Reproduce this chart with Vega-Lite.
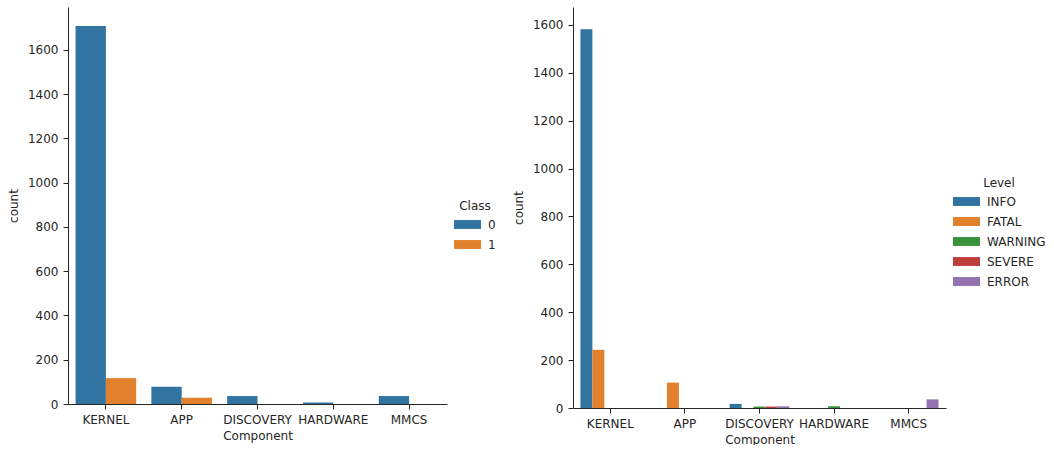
{
  "$schema": "https://vega.github.io/schema/vega-lite/v6.json",
  "padding": {"left": 7, "top": 7, "right": 0, "bottom": 0},
  "background": "white",
  "spacing": 126,
  "bounds": "flush",
  "config": {
    "view": {"stroke": null},
    "font": "DejaVu Sans",
    "axis": {
      "labelFont": "DejaVu Sans", "titleFont": "DejaVu Sans",
      "labelFontSize": 12, "titleFontSize": 12, "titleFontWeight": "normal",
      "labelColor": "#262626", "titleColor": "#262626",
      "domainColor": "#262626", "tickColor": "#262626",
      "tickSize": 5, "labelPadding": 5, "grid": false
    },
    "legend": {
      "labelFont": "DejaVu Sans", "titleFont": "DejaVu Sans",
      "labelFontSize": 12, "titleFontSize": 12, "titleFontWeight": "normal",
      "labelColor": "#262626", "titleColor": "#262626",
      "symbolType": "M-1,-0.33H1V0.33H-1Z", "symbolSize": 729,
      "symbolStrokeWidth": 0, "titleAnchor": "middle", "padding": 0,
      "rowPadding": -3.5, "titlePadding": -2, "labelOffset": 7
    }
  },
  "datasets": {
    "cls": [
      {"Component": "KERNEL", "Class": "0", "count": 1708},
      {"Component": "KERNEL", "Class": "1", "count": 117},
      {"Component": "APP", "Class": "0", "count": 78},
      {"Component": "APP", "Class": "1", "count": 28},
      {"Component": "DISCOVERY", "Class": "0", "count": 36},
      {"Component": "HARDWARE", "Class": "0", "count": 7},
      {"Component": "MMCS", "Class": "0", "count": 36}
    ],
    "lvl": [
      {"Component": "KERNEL", "Level": "INFO", "count": 1582},
      {"Component": "KERNEL", "Level": "FATAL", "count": 243},
      {"Component": "APP", "Level": "FATAL", "count": 106},
      {"Component": "DISCOVERY", "Level": "INFO", "count": 17},
      {"Component": "DISCOVERY", "Level": "WARNING", "count": 6},
      {"Component": "DISCOVERY", "Level": "SEVERE", "count": 6},
      {"Component": "DISCOVERY", "Level": "ERROR", "count": 7},
      {"Component": "HARDWARE", "Level": "WARNING", "count": 7},
      {"Component": "MMCS", "Level": "ERROR", "count": 36}
    ]
  },
  "resolve": {"scale": {"color": "independent", "y": "independent", "x": "independent", "xOffset": "independent"}, "legend": {"color": "independent"}},
  "hconcat": [
    {
      "width": 379,
      "height": 397,
      "data": {"name": "cls"},
      "mark": {"type": "bar"},
      "encoding": {
        "x": {"field": "Component", "type": "nominal",
              "scale": {"domain": ["KERNEL", "APP", "DISCOVERY", "HARDWARE", "MMCS"], "paddingInner": 0.2, "paddingOuter": 0.1},
              "axis": {"labelAngle": 0, "title": "Component", "titlePadding": 5}},
        "xOffset": {"field": "Class", "type": "nominal", "scale": {"domain": ["0", "1"], "paddingInner": 0, "paddingOuter": 0}},
        "y": {"field": "count", "type": "quantitative",
              "scale": {"domain": [0, 1794], "nice": false},
              "axis": {"values": [0, 200, 400, 600, 800, 1000, 1200, 1400, 1600], "format": "d", "title": "count", "titlePadding": 7}},
        "color": {"field": "Class", "type": "nominal",
                  "scale": {"domain": ["0", "1"], "range": ["#3274A1", "#E1812C"]},
                  "legend": {"title": "Class", "orient": "none", "legendX": 386, "legendY": 194}}
      }
    },
    {
      "width": 373,
      "height": 401,
      "data": {"name": "lvl"},
      "mark": {"type": "bar"},
      "encoding": {
        "x": {"field": "Component", "type": "nominal",
              "scale": {"domain": ["KERNEL", "APP", "DISCOVERY", "HARDWARE", "MMCS"], "paddingInner": 0.2, "paddingOuter": 0.1},
              "axis": {"labelAngle": 0, "title": "Component", "titlePadding": 5}},
        "xOffset": {"field": "Level", "type": "nominal", "scale": {"domain": ["INFO", "FATAL", "WARNING", "SEVERE", "ERROR"], "paddingInner": 0, "paddingOuter": 0}},
        "y": {"field": "count", "type": "quantitative",
              "scale": {"domain": [0, 1675], "nice": false},
              "axis": {"values": [0, 200, 400, 600, 800, 1000, 1200, 1400, 1600], "format": "d", "title": "count", "titlePadding": 7}},
        "color": {"field": "Level", "type": "nominal",
                  "scale": {"domain": ["INFO", "FATAL", "WARNING", "SEVERE", "ERROR"], "range": ["#3274A1", "#E1812C", "#3A923A", "#C03D3E", "#9372B2"]},
                  "legend": {"title": "Level", "orient": "none", "legendX": 380, "legendY": 171, "rowPadding": -4.5}}
      }
    }
  ]
}
